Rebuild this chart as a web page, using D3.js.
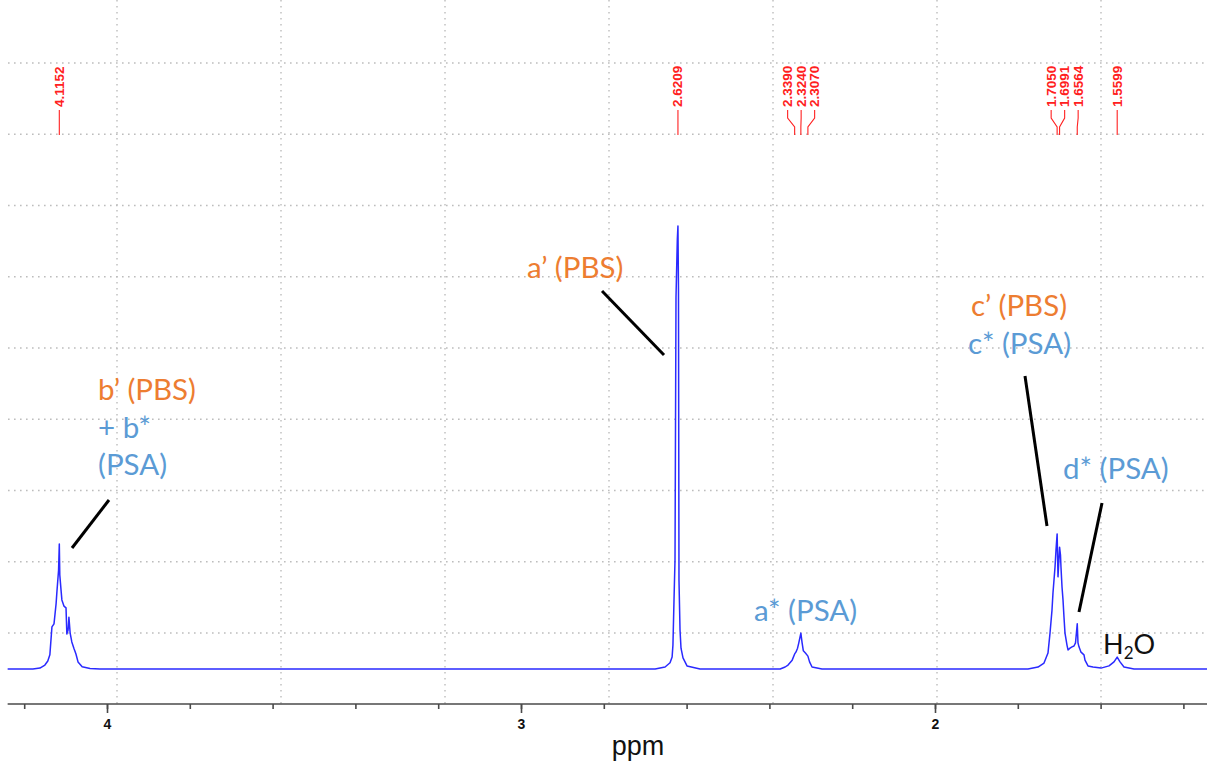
<!DOCTYPE html>
<html><head><meta charset="utf-8">
<script src="https://cdn.jsdelivr.net/npm/d3@7"></script>
<style>body{margin:0;background:#fff;} svg{display:block}</style>
</head><body><svg id="c" width="1207" height="763"></svg>
<script>
// ---------------- DATA ----------------
const peakLabels = [4.1152, 2.6209, 2.3390, 2.3240, 2.3070, 1.7050, 1.6991, 1.6564, 1.5599];

const spectrumPpm = [
  4.24, 4.179, 4.162, 4.150, 4.143, 4.138, 4.133, 4.128, 4.123, 4.121, 4.117, 4.1152, 4.114, 4.111, 4.109, 4.104, 4.099, 4.097, 4.094, 4.092, 4.089, 4.085, 4.080, 4.075, 4.070, 4.060, 4.041, 4.017,
  2.676, 2.652, 2.640, 2.635, 2.633, 2.6304, 2.628, 2.6256, 2.6224, 2.6209, 2.6196, 2.6184, 2.6159, 2.6135, 2.6087, 2.599, 2.5676,
  2.374, 2.362, 2.355, 2.345, 2.339, 2.336, 2.332, 2.329, 2.324, 2.321, 2.318, 2.313, 2.307, 2.303, 2.297, 2.273,
  1.7754, 1.7512, 1.7367, 1.7271, 1.7222, 1.7174, 1.7150, 1.7101, 1.7077, 1.7050, 1.7029, 1.6991, 1.6969, 1.6957, 1.6932, 1.6908, 1.6884, 1.6860, 1.6812, 1.6787, 1.6739, 1.6691, 1.6643, 1.6606, 1.6564, 1.6546, 1.6522, 1.6473, 1.6401, 1.6377, 1.6304, 1.6184, 1.5990, 1.5797, 1.5676, 1.5599, 1.5531, 1.5435, 1.5193, 1.34
];
const spectrumIntensity = [
  0, 0, 0.2, 0.9, 1.8, 3.2, 9.5, 10.2, 14.7, 17.4, 22.3, 28.2, 21.2, 17.8, 15.6, 14.2, 13.8, 7.9, 8.8, 11.7, 8.1, 6.1, 4.7, 3.4, 1.6, 0.5, 0.1, 0,
  0, 0.45, 1.4, 2.7, 5.4, 15.6, 24.6, 84, 97, 100, 85.6, 20.1, 8.8, 4.7, 2.5, 0.7, 0,
  0, 0.45, 0.9, 2.0, 3.4, 3.8, 4.7, 5.9, 8.1, 5.9, 4.1, 3.6, 2.9, 1.6, 0.45, 0,
  0, 0.45, 1.35, 3.6, 8.1, 13.3, 17.2, 23.0, 26.9, 30.5, 20.8, 27.5, 25.7, 23.0, 18.5, 15.6, 11.7, 8.1, 5.4, 4.3, 4.7, 5.0, 5.2, 5.9, 10.2, 5.9, 5.0, 3.8, 3.2, 2.0, 0.7, 0.45, 0.2, 0.7, 1.6, 2.7, 1.6, 0.45, 0, 0
];

const minorTicks = [4.2, 4.0, 3.8, 3.6, 3.4, 3.2, 3.0, 2.8, 2.6, 2.4, 2.2, 2.0, 1.8, 1.6, 1.4];
const majorTicks = [4, 3, 2];
const xTitle = "ppm";

// ---------------- LAYOUT ----------------
const svg = d3.select("#c");
const W = 1207, H = 763;
const axisY = 704;
const x = d3.scaleLinear().domain([4.24, 1.34]).range([107 - 0.24 * 414, 107 + 2.66 * 414]);
const y = d3.scaleLinear().domain([0, 100]).range([669, 226]);

// grid (dotted)
const grid = svg.append("g").attr("stroke", "#bdbdbd").attr("stroke-width", 1.4).attr("stroke-dasharray", "1.6,4.4");
d3.range(9).forEach(i => {
  const gy = 63 + i * 71.25;
  grid.append("line").attr("x1", 8).attr("x2", W).attr("y1", gy).attr("y2", gy);
});
d3.range(7).forEach(i => {
  const gx = 117 + i * 164;
  grid.append("line").attr("x1", gx).attr("x2", gx).attr("y1", 0).attr("y2", axisY);
});

// spectrum
const pts = spectrumPpm.map((p, i) => [p, spectrumIntensity[i]]);
svg.append("path").datum(pts)
  .attr("fill", "none").attr("stroke", "#2a2aff").attr("stroke-width", 1.5)
  .attr("stroke-linejoin", "round")
  .attr("d", d3.line().x(d => x(d[0])).y(d => y(d[1])));

// axis
const axMinor = d3.axisBottom(x).tickValues(minorTicks).tickSize(5).tickFormat("");
const axMajor = d3.axisBottom(x).tickValues(majorTicks).tickSize(9).tickPadding(6).tickFormat(d3.format("d"));
const gMinor = svg.append("g").attr("transform", `translate(0,${axisY})`).call(axMinor);
const gMajor = svg.append("g").attr("transform", `translate(0,${axisY})`).call(axMajor);
[gMinor, gMajor].forEach(g => {
  g.select(".domain").attr("stroke", "#4a4a4a").attr("stroke-width", 1.6).attr("d", `M${x(4.24)},0H${x(1.34)}`);
  g.selectAll(".tick line").attr("stroke", "#4a4a4a").attr("stroke-width", 1.6);
});
gMajor.select(".domain").remove();
gMajor.selectAll(".tick text").attr("font-family", "Liberation Sans, Arial, sans-serif")
  .attr("font-weight", "bold").attr("font-size", 14).attr("fill", "#111");

svg.append("text").attr("x", 638).attr("y", 755).attr("text-anchor", "middle")
  .attr("font-family", "Liberation Sans, Arial, sans-serif").attr("font-size", 27).attr("fill", "#111")
  .text(xTitle);

// peak labels with spread
function spreadLabels(xs, gap) {
  let groups = xs.map(v => ({ xs: [v], c: v }));
  let changed = true;
  while (changed) {
    changed = false;
    for (let i = 0; i < groups.length - 1; i++) {
      const a = groups[i], b = groups[i + 1];
      const aEnd = a.c + (a.xs.length - 1) * gap / 2;
      const bStart = b.c - (b.xs.length - 1) * gap / 2;
      if (bStart - aEnd < gap) {
        const all = a.xs.concat(b.xs);
        groups.splice(i, 2, { xs: all, c: d3.mean(all) });
        changed = true; break;
      }
    }
  }
  const out = [];
  groups.forEach(g => g.xs.forEach((v, k) => out.push(g.c + (k - (g.xs.length - 1) / 2) * gap)));
  return out;
}
const peakX = peakLabels.map(p => x(p));
const order = d3.range(peakX.length).sort((a, b) => peakX[a] - peakX[b]);
const spread = spreadLabels(order.map(i => peakX[i]), 13.5);
const labelX = new Array(peakX.length);
order.forEach((i, k) => labelX[i] = spread[k]);

const lab = svg.append("g");
peakLabels.forEach((p, i) => {
  const px = peakX[i], lx = labelX[i];
  lab.append("path").attr("fill", "none").attr("stroke", "#ff2020").attr("stroke-width", 1.1)
    .attr("d", `M${px},135V127L${lx},118V110`);
  lab.append("text").attr("transform", `translate(${lx},107) rotate(-90)`)
    .attr("dominant-baseline", "central")
    .attr("font-family", "Liberation Sans, Arial, sans-serif").attr("font-weight", "bold")
    .attr("font-size", 13.5).attr("fill", "#ff2020")
    .text(d3.format(".4f")(p));
});

// annotations
const ORANGE = "#ED7D31", BLUE = "#5B9BD5";
const annFont = "Lato, 'Open Sans', sans-serif";
const annSize = 29.5;
const annotations = [
  { ppm: 4.0217, lines: [["b’ (PBS)", ORANGE, 60.72], ["+ b*", BLUE, 52.14], ["(PSA)", BLUE, 43.79]] },
  { ppm: 2.9855, lines: [["a’ (PBS)", ORANGE, 88.26]] },
  { ppm: 1.9130, lines: [["c’ (PBS)", ORANGE, 79.68]] },
  { ppm: 1.9203, lines: [["c* (PSA)", BLUE, 71.11]] },
  { ppm: 1.6908, lines: [["d* (PSA)", BLUE, 42.89]] },
  { ppm: 2.4372, lines: [["a* (PSA)", BLUE, 10.84]] }
];
annotations.forEach(a => {
  a.lines.forEach(([t, col, iv]) => {
    svg.append("text").attr("x", x(a.ppm)).attr("y", y(iv))
      .attr("font-family", annFont).attr("font-size", annSize).attr("fill", col).text(t);
  });
});
const h2o = svg.append("text").attr("x", x(1.5942)).attr("y", y(3.39))
  .attr("font-family", annFont).attr("font-size", 27).attr("fill", "#111");
h2o.append("tspan").text("H");
h2o.append("tspan").attr("font-size", 17).attr("dy", 5).text("2");
h2o.append("tspan").attr("dy", -5).text("O");

const leaders = [
  [[3.9952, 38.15], [4.0845, 27.31]],
  [[2.8043, 85.33], [2.6546, 70.88]],
  [[1.7826, 66.14], [1.7295, 32.28]],
  [[1.5966, 37.47], [1.6522, 12.87]]
];
leaders.forEach(([a, b]) => {
  svg.append("line").attr("x1", x(a[0])).attr("y1", y(a[1])).attr("x2", x(b[0])).attr("y2", y(b[1]))
    .attr("stroke", "#000").attr("stroke-width", 3);
});
</script></body></html>
